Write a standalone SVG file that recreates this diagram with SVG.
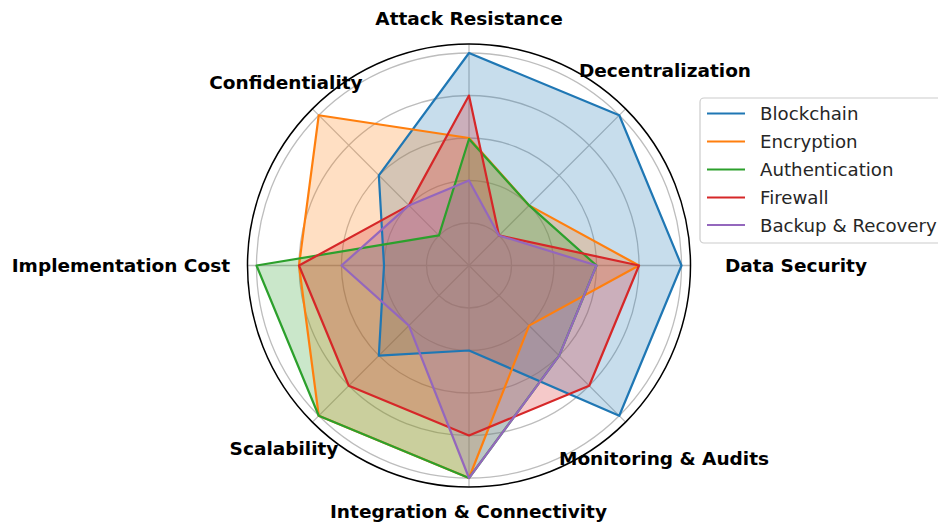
<svg xmlns="http://www.w3.org/2000/svg" width="938" height="523" viewBox="0 0 938 523">
<style>
.grid{fill:none;stroke:#bdbdbd;stroke-width:1.3}
.spoke{stroke:#bdbdbd;stroke-width:1.3}
.frame{fill:none;stroke:#000;stroke-width:1.5}
.lbl{font-family:"DejaVu Sans",sans-serif;font-weight:bold;font-size:18.5px;fill:#000}
.leg{font-family:"DejaVu Sans",sans-serif;font-size:18.2px;fill:#262626}
.ln{fill:none;stroke-width:2.2;stroke-linejoin:round}
.fl{stroke:none;fill-opacity:0.25}
</style>
<rect width="938" height="523" fill="#fff"/>
<g id="grid">
<circle class="grid" cx="469" cy="265.5" r="42.5"/>
<circle class="grid" cx="469" cy="265.5" r="85"/>
<circle class="grid" cx="469" cy="265.5" r="127.5"/>
<circle class="grid" cx="469" cy="265.5" r="170"/>
<circle class="grid" cx="469" cy="265.5" r="212.5"/>
<line class="spoke" x1="469" y1="265.5" x2="690.5" y2="265.5"/>
<line class="spoke" x1="469" y1="265.5" x2="625.6" y2="108.9"/>
<line class="spoke" x1="469" y1="265.5" x2="469" y2="44"/>
<line class="spoke" x1="469" y1="265.5" x2="312.4" y2="108.9"/>
<line class="spoke" x1="469" y1="265.5" x2="247.5" y2="265.5"/>
<line class="spoke" x1="469" y1="265.5" x2="312.4" y2="422.1"/>
<line class="spoke" x1="469" y1="265.5" x2="469" y2="487"/>
<line class="spoke" x1="469" y1="265.5" x2="625.6" y2="422.1"/>
</g>
<g id="fills">
<polygon id="blockchain-fill" class="fl" fill="#1f77b4" points="681.5,265.5 619.26,115.24 469,53 378.84,175.34 384,265.5 378.84,355.66 469,350.5 619.26,415.76"/>
<polygon id="encryption-fill" class="fl" fill="#ff7f0e" points="639,265.5 529.1,205.4 469,138 318.74,115.24 299,265.5 318.74,415.76 469,478 529.1,325.6"/>
<polygon id="authentication-fill" class="fl" fill="#2ca02c" points="596.5,265.5 529.1,205.4 469,139 438.95,235.45 256.5,265.5 318.74,415.76 469,478 559.16,355.66"/>
<polygon id="firewall-fill" class="fl" fill="#d62728" points="639,265.5 499.05,235.45 469,95.5 408.9,205.4 299,265.5 348.79,385.71 469,435.5 589.21,385.71"/>
<polygon id="backup-fill" class="fl" fill="#9467bd" points="596.5,265.5 499.05,235.45 469,180.5 408.9,205.4 341.5,265.5 408.9,325.6 469,478 559.16,355.66"/>
</g>
<g id="lines">
<polygon id="blockchain" class="ln" stroke="#1f77b4" points="681.5,265.5 619.26,115.24 469,53 378.84,175.34 384,265.5 378.84,355.66 469,350.5 619.26,415.76"/>
<polygon id="encryption" class="ln" stroke="#ff7f0e" points="639,265.5 529.1,205.4 469,138 318.74,115.24 299,265.5 318.74,415.76 469,478 529.1,325.6"/>
<polygon id="authentication" class="ln" stroke="#2ca02c" points="596.5,265.5 529.1,205.4 469,139 438.95,235.45 256.5,265.5 318.74,415.76 469,478 559.16,355.66"/>
<polygon id="firewall" class="ln" stroke="#d62728" points="639,265.5 499.05,235.45 469,95.5 408.9,205.4 299,265.5 348.79,385.71 469,435.5 589.21,385.71"/>
<polygon id="backup" class="ln" stroke="#9467bd" points="596.5,265.5 499.05,235.45 469,180.5 408.9,205.4 341.5,265.5 408.9,325.6 469,478 559.16,355.66"/>
</g>
<circle class="frame" cx="469" cy="265.5" r="221.5"/>
<g id="labels">
<text class="lbl" x="469" y="25" text-anchor="middle">Attack Resistance</text>
<text class="lbl" x="665" y="77" text-anchor="middle">Decentralization</text>
<text class="lbl" x="286" y="89" text-anchor="middle">Confidentiality</text>
<text class="lbl" x="725" y="272">Data Security</text>
<text class="lbl" x="230" y="272" text-anchor="end">Implementation Cost</text>
<text class="lbl" x="284" y="455" text-anchor="middle">Scalability</text>
<text class="lbl" x="664" y="465" text-anchor="middle">Monitoring &amp; Audits</text>
<text class="lbl" x="468.5" y="518" text-anchor="middle">Integration &amp; Connectivity</text>
</g>
<g id="legend">
<rect x="700" y="98" width="250" height="145" rx="4" fill="#fff" fill-opacity="0.8" stroke="#cccccc" stroke-width="1.2"/>
<line x1="707" y1="113.5" x2="745" y2="113.5" stroke="#1f77b4" stroke-width="2"/>
<line x1="707" y1="141.5" x2="745" y2="141.5" stroke="#ff7f0e" stroke-width="2"/>
<line x1="707" y1="169.5" x2="745" y2="169.5" stroke="#2ca02c" stroke-width="2"/>
<line x1="707" y1="197.5" x2="745" y2="197.5" stroke="#d62728" stroke-width="2"/>
<line x1="707" y1="225" x2="745" y2="225" stroke="#9467bd" stroke-width="2"/>
<text class="leg" x="760" y="120">Blockchain</text>
<text class="leg" x="760" y="148">Encryption</text>
<text class="leg" x="760" y="176">Authentication</text>
<text class="leg" x="760" y="204">Firewall</text>
<text class="leg" x="760" y="232">Backup &amp; Recovery</text>
</g>
</svg>
